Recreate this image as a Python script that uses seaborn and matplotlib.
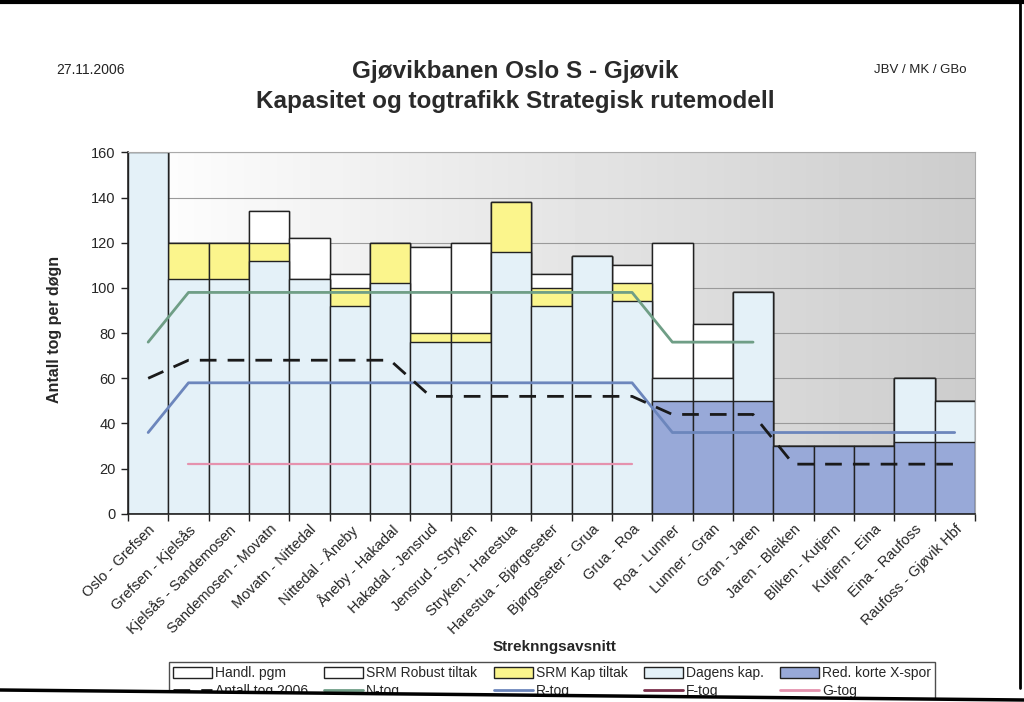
import numpy as np
import pandas as pd
import matplotlib
matplotlib.use("Agg")
import matplotlib.pyplot as plt
import seaborn as sns
from matplotlib.patches import Patch, Polygon
from matplotlib.lines import Line2D

# ---------------- data ----------------
segments = ["Oslo - Grefsen", "Grefsen - Kjelsås", "Kjelsås - Sandemosen", "Sandemosen - Movatn",
            "Movatn - Nittedal", "Nittedal - Åneby", "Åneby - Hakadal", "Hakadal - Jensrud",
            "Jensrud - Stryken", "Stryken - Harestua", "Harestua - Bjørgeseter", "Bjørgeseter - Grua",
            "Grua - Roa", "Roa - Lunner", "Lunner - Gran", "Gran - Jaren", "Jaren - Bleiken",
            "Bliken - Kutjern", "Kutjern - Eina", "Eina - Raufoss", "Raufoss - Gjøvik Hbf"]

red_korte = [0, 0, 0, 0, 0, 0, 0, 0, 0, 0, 0, 0, 0, 50, 50, 50, 30, 30, 30, 32, 32]
dagens_kap = [160, 104, 104, 112, 104, 92, 102, 76, 76, 116, 92, 114, 94, 10, 10, 48, 0, 0, 0, 28, 18]
srm_kap = [0, 16, 16, 8, 0, 8, 18, 4, 4, 22, 8, 0, 8, 0, 0, 0, 0, 0, 0, 0, 0]
srm_robust = [0, 0, 0, 14, 18, 6, 0, 38, 40, 0, 6, 0, 8, 60, 24, 0, 0, 0, 0, 0, 0]
handl_pgm = [0] * 21

antall_2006 = [60, 68, 68, 68, 68, 68, 68, 52, 52, 52, 52, 52, 52, 44, 44, 44, 22, 22, 22, 22, 22]
n_tog = [76, 98, 98, 98, 98, 98, 98, 98, 98, 98, 98, 98, 98, 76, 76, 76,
         np.nan, np.nan, np.nan, np.nan, np.nan]
r_tog = [36, 58, 58, 58, 58, 58, 58, 58, 58, 58, 58, 58, 58, 36, 36, 36, 36, 36, 36, 36, 36]
f_tog = [np.nan] * 21
g_tog = [np.nan, 22, 22, 22, 22, 22, 22, 22, 22, 22, 22, 22, 22,
         np.nan, np.nan, np.nan, np.nan, np.nan, np.nan, np.nan, np.nan]

# ---------------- style ----------------
sns.set_theme(style="white")
plt.rcParams['font.family'] = ['Liberation Sans', 'DejaVu Sans']

C_LIGHT = "#E4F1F8"
C_DARK = "#98A9D8"
C_YELLOW = "#FBF58C"
C_N = "#6F9E86"
C_R = "#6C86BC"
C_F = "#7A2E4A"
C_G = "#E592AE"

fig = plt.figure(figsize=(10.24, 7.02), dpi=100)
ax = fig.add_axes([0.125, 0.268, 0.827, 0.515])

# gradient background of plot area
grad = np.linspace(1.0, 0.80, 256).reshape(1, -1)
ax.imshow(grad, cmap="gray", vmin=0, vmax=1, aspect="auto",
          extent=[0, 1, 0, 1], transform=ax.transAxes, zorder=0)

df = pd.DataFrame({"seg": segments,
                   "red": red_korte,
                   "dag": dagens_kap,
                   "kap": srm_kap,
                   "rob": srm_robust,
                   "hpg": handl_pgm})
df["c1"] = df["red"]
df["c2"] = df["c1"] + df["dag"]
df["c3"] = df["c2"] + df["kap"]
df["c4"] = df["c3"] + df["rob"]
df["c5"] = df["c4"] + df["hpg"]

layers = [("c5", "white"), ("c4", "white"), ("c3", C_YELLOW), ("c2", C_LIGHT), ("c1", C_DARK)]
for i, (col, colr) in enumerate(layers):
    sns.barplot(data=df, x="seg", y=col, color=colr, width=1.0, edgecolor="#222222",
                linewidth=1.0, saturation=1, ax=ax, zorder=2 + i * 0.01)

xs = np.arange(len(segments))
lw = 2.0
sns.lineplot(x=xs, y=n_tog, color=C_N, lw=lw, ax=ax, zorder=5)
sns.lineplot(x=xs, y=r_tog, color=C_R, lw=lw, ax=ax, zorder=5)
sns.lineplot(x=xs[1:13], y=g_tog[1:13], color=C_G, lw=1.6, ax=ax, zorder=5)
sns.lineplot(x=xs, y=antall_2006, color="#1a1a1a", lw=2.0, ax=ax, zorder=6,
             dashes=False)
ax.lines[-1].set_dashes((6, 4))

ax.set_xlim(-0.5, len(segments) - 0.5)
ax.set_ylim(0, 160)
ax.set_yticks(np.arange(0, 161, 20))
ax.yaxis.grid(True, color="#9a9a9a", lw=0.8, zorder=1)
ax.set_axisbelow(True)

ax.set_xticks(xs)
ax.set_xticklabels(segments, rotation=45, ha="right", rotation_mode="anchor", fontsize=10.5)
ax.tick_params(axis="x", which="major", length=0, pad=6)
ax.set_xticks(np.arange(-0.5, len(segments), 1.0), minor=True)
ax.tick_params(axis="x", which="minor", length=5, width=1, color="#222222", direction="out", bottom=True)
ax.tick_params(axis="y", length=5, width=1, color="#222222", direction="out", left=True,
               labelsize=10.5, pad=4)

for s in ["left", "bottom"]:
    ax.spines[s].set_color("#222222")
    ax.spines[s].set_linewidth(1.2)
for s in ["top", "right"]:
    ax.spines[s].set_color("#aaaaaa")
    ax.spines[s].set_linewidth(0.8)

ax.set_xlabel("Streknngsavsnitt", fontsize=11, fontweight="bold")
ax.xaxis.set_label_coords(0.504, -0.35)
ax.set_ylabel("Antall tog per døgn", fontsize=11.5, fontweight="bold")
ax.yaxis.set_label_coords(-0.078, 0.51)

# titles
fig.text(0.503, 0.898, "Gjøvikbanen Oslo S - Gjøvik", ha="center", va="center",
         fontsize=17.5, fontweight="bold", color="#2a2a2a")
fig.text(0.503, 0.855, "Kapasitet og togtrafikk Strategisk rutemodell", ha="center", va="center",
         fontsize=17.5, fontweight="bold", color="#2a2a2a")
fig.text(0.055, 0.900, "27.11.2006", ha="left", va="center", fontsize=10, color="#222222")
fig.text(0.944, 0.900, "JBV / MK / GBo", ha="right", va="center", fontsize=9.5, color="#222222")

# legend
handles = [
    Patch(facecolor="white", edgecolor="#222222", label="Handl. pgm"),
    Line2D([], [], color="#1a1a1a", lw=2, dashes=(6, 4), label="Antall tog 2006"),
    Patch(facecolor="white", edgecolor="#222222", label="SRM Robust tiltak"),
    Line2D([], [], color=C_N, lw=2, label="N-tog"),
    Patch(facecolor=C_YELLOW, edgecolor="#222222", label="SRM Kap tiltak"),
    Line2D([], [], color=C_R, lw=2, label="R-tog"),
    Patch(facecolor=C_LIGHT, edgecolor="#222222", label="Dagens kap."),
    Line2D([], [], color=C_F, lw=2, label="F-tog"),
    Patch(facecolor=C_DARK, edgecolor="#222222", label="Red. korte X-spor"),
    Line2D([], [], color=C_G, lw=2, label="G-tog"),
]
leg = fig.legend(handles=handles, loc="upper center", bbox_to_anchor=(0.539, 0.057), ncol=5,
                 fontsize=10, frameon=True, fancybox=False, edgecolor="#222222",
                 handlelength=2.8, handleheight=0.8, handletextpad=0.2, columnspacing=1.2,
                 labelspacing=0.3, borderpad=0.3, borderaxespad=0.0)
leg.get_frame().set_linewidth(1.0)

# page border lines (scan frame, slightly skewed at the bottom)
y_left = 1 - 690 / 702
y_right = 1 - 700 / 702
fig.add_artist(Polygon([(0, 0), (1, 0), (1, y_right), (0, y_left)], closed=True,
                       facecolor="white", edgecolor="none", transform=fig.transFigure, zorder=20))
fig.add_artist(Line2D([0, 1], [y_left, y_right], color="black", lw=2.5,
                      transform=fig.transFigure, zorder=21))
fig.add_artist(Line2D([0, 1], [0.997, 0.997], color="black", lw=3, transform=fig.transFigure))
fig.add_artist(Line2D([0.996, 0.996], [0.02, 1.0], color="black", lw=2, transform=fig.transFigure))

fig.savefig("out.png", dpi=100)
